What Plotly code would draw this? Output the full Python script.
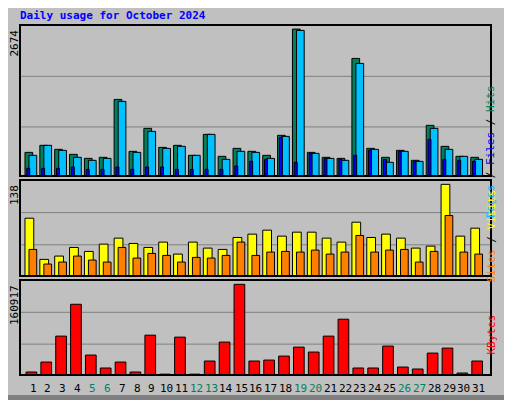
import plotly.graph_objects as go

days = list(range(1, 32))
day_labels = [str(d) for d in days]
weekend = [5, 6, 12, 13, 19, 20, 26, 27]
hits = [430,558,485,394,321,340,1394,449,867,521,558,376,758,358,503,449,376,740,2674,430,340,321,2140,503,340,467,285,922,540,358,340]
files = [376,558,467,340,285,321,1358,430,812,503,540,376,758,303,449,430,321,721,2650,412,321,285,2049,485,249,449,267,867,485,358,303]
pages = [139,139,139,164,121,121,164,121,164,164,121,121,121,121,182,267,303,703,249,412,321,303,376,473,303,449,267,667,303,285,267]
visits = [87,25,30,43,37,48,57,49,43,51,33,51,42,40,58,63,69,60,66,66,57,51,81,58,63,57,42,45,138,60,72]
sites = [40,18,21,30,24,21,43,27,34,31,21,28,27,31,51,31,36,37,36,39,33,36,61,36,39,40,21,37,91,36,33]
kbytes = [5300,23000,69000,125500,35400,12400,23000,5300,70700,1500,67200,1500,24800,58400,160917,24800,26500,33600,49500,40700,69000,99000,12400,12400,51300,14100,10600,38900,47700,3500,24800]

OFF = 8  # page body margin
W, H = 512 - OFF, 400 - OFF
def px(x):
    return (x - OFF) / W
def py(y):
    return 1 - (y - OFF) / H
def yd(top, bot):
    return [py(bot), py(top)]

fig = go.Figure()
def bar(y, yaxis, color, off, wid):
    fig.add_trace(go.Bar(x=days, y=y, yaxis=yaxis, marker=dict(color=color, line=dict(color="black", width=1)),
                         offset=off, width=wid, showlegend=False, hoverinfo="skip"))

bar(hits, "y", "#00805c", -0.54, 0.52)
bar(files, "y", "#00c0ff", -0.27, 0.52)
bar(pages, "y", "#0000ff", -0.42, 0.2)
bar(visits, "y2", "#ffff00", -0.54, 0.59)
bar(sites, "y2", "#ff8000", -0.27, 0.52)
bar(kbytes, "y3", "#ff0000", -0.47, 0.72)

xr = [0.125, 31.82]
ax = dict(showgrid=False, zeroline=False, showticklabels=False, ticks="", fixedrange=True)
fig.update_layout(
    width=W, height=H, autosize=False, margin=dict(l=0, r=0, t=0, b=0),
    paper_bgcolor="#c0c0c0", plot_bgcolor="#c0c0c0", barmode="overlay",
    xaxis=dict(domain=[px(20), px(491)], range=xr, anchor="y3", **ax),
    yaxis=dict(domain=yd(25, 176), range=[0, 2674 / 0.973], **ax),
    yaxis2=dict(domain=yd(180, 276), range=[0, 138 * 288 / 275], **ax),
    yaxis3=dict(domain=yd(280, 375), range=[0, 160917 * 286 / 273], **ax),
)

shapes = []
for yr in ["y", "y2", "y3"]:
    for f in [0.325, 0.66]:
        shapes.append(dict(type="line", xref="x domain", yref=yr + " domain", x0=0, x1=1, y0=f, y1=f,
                           line=dict(color="#808080", width=1), layer="below"))
    shapes.append(dict(type="rect", xref="x domain", yref=yr + " domain", x0=0, x1=1, y0=0, y1=1,
                       line=dict(color="black", width=2), layer="above"))
shapes += [
    dict(type="rect", xref="paper", yref="paper", x0=px(506), x1=1, y0=0, y1=1, fillcolor="#808080", line=dict(width=0)),
    dict(type="rect", xref="paper", yref="paper", x0=0, x1=1, y0=0, y1=py(395), fillcolor="#808080", line=dict(width=0)),
]
fig.update_layout(shapes=shapes)

mono = "DejaVu Sans Mono"
ann = [dict(text="<b>Daily usage for October 2024</b>", x=px(18), y=py(7), xref="paper", yref="paper",
            xanchor="left", yanchor="top", showarrow=False, font=dict(family=mono, size=11, color="#0000ff"))]
for lbl, ytop in [("2674", 28), ("138", 183), ("160917", 283)]:
    ann.append(dict(text=lbl, x=px(14), y=py(ytop), xref="paper", yref="paper", textangle=-90,
                    xanchor="center", yanchor="top", showarrow=False, font=dict(family=mono, size=11, color="black")))
for d, l in zip(days, day_labels):
    ann.append(dict(text=l, x=d, y=py(380), xref="x", yref="paper", xanchor="center", yanchor="top",
                    showarrow=False, font=dict(family=mono, size=11, color="#00805c" if d in weekend else "black")))
ann.append(dict(text='<span style="color:#00c0ff">Pages</span> / <span style="color:#0000ff">Files</span> / <span style="color:#00805c">Hits</span>',
                x=px(499), y=py(83), xref="paper", yref="paper", textangle=-90, showarrow=False,
                font=dict(family=mono, size=11, color="black")))
ann.append(dict(text='<span style="color:#ff8000">Sites</span> / <span style="color:#ffff00">Visits</span>',
                x=px(499), y=py(236), xref="paper", yref="paper", textangle=-90, showarrow=False,
                font=dict(family=mono, size=11, color="black")))
ann.append(dict(text="KBytes", x=px(499), y=py(357), xref="paper", yref="paper", textangle=-90, showarrow=False,
                font=dict(family=mono, size=11, color="#ff0000")))
fig.update_layout(annotations=ann)

fig.write_html("out.html")
